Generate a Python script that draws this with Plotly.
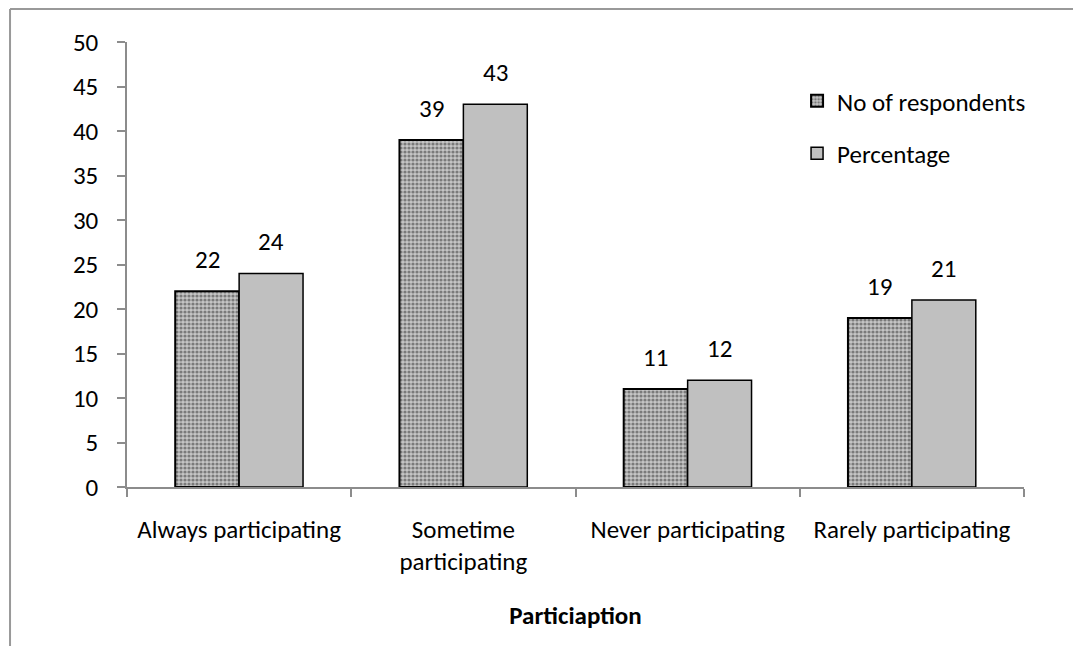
import plotly.graph_objects as go

categories = ["Always participating", "Sometime<br>participating",
              "Never participating", "Rarely participating"]
respondents = [22, 39, 11, 19]
percentage = [24, 43, 12, 21]
y_ticks = [0, 5, 10, 15, 20, 25, 30, 35, 40, 45, 50]

FONT = "Carlito, Calibri, Lato, sans-serif"
FS = 25
BAR_SHIFT = 32  # half of one bar's width in px, used to centre value labels

fig = go.Figure()

fig.add_trace(go.Bar(
    name="No of respondents",
    x=categories, y=respondents,
    marker=dict(
        color="#b4b4b4",
        line=dict(color="black", width=2),
        pattern=dict(shape=".", fgcolor="#7a7a7a", bgcolor="#c6c6c6",
                     size=4, solidity=0.5, fillmode="replace"),
    ),
    legendgroup="a",
))
fig.add_trace(go.Bar(
    name="Percentage",
    x=categories, y=percentage,
    marker=dict(color="#c0c0c0", line=dict(color="black", width=1.5)),
    legendgroup="b",
))

# value labels above each bar
for cat, v in zip(categories, respondents):
    fig.add_annotation(x=cat, y=v, xref="x", yref="y", text=str(v),
                       showarrow=False, xshift=-BAR_SHIFT, yshift=14,
                       yanchor="bottom",
                       font=dict(family=FONT, size=FS, color="black"))
for cat, v in zip(categories, percentage):
    fig.add_annotation(x=cat, y=v, xref="x", yref="y", text=str(v),
                       showarrow=False, xshift=BAR_SHIFT, yshift=14,
                       yanchor="bottom",
                       font=dict(family=FONT, size=FS, color="black"))

# outer chart frame (top and left edges)
fig.add_shape(type="line", xref="paper", yref="paper",
              x0=-0.1304, x1=1.06, y0=1.074, y1=1.074,
              line=dict(color="#999999", width=2))
fig.add_shape(type="line", xref="paper", yref="paper",
              x0=-0.1304, x1=-0.1304, y0=1.074, y1=-0.36,
              line=dict(color="#999999", width=2))

fig.update_layout(
    width=1073, height=646,
    margin=dict(l=127, r=49, t=42, b=159),
    paper_bgcolor="white", plot_bgcolor="white",
    font=dict(family=FONT, size=FS, color="black"),
    barmode="group", bargap=0.43, bargroupgap=0,
    showlegend=True,
    legend=dict(x=0.747, y=0.919, xanchor="left", yanchor="top",
                bgcolor="rgba(0,0,0,0)", tracegroupgap=17,
                traceorder="grouped",
                font=dict(family=FONT, size=FS, color="black")),
    xaxis=dict(
        showline=True, linecolor="#8c8c8c", linewidth=1.5,
        ticks="outside", tickson="boundaries", ticklen=8,
        tickcolor="#8c8c8c", tickwidth=1.5,
        ticklabelstandoff=19,
        tickfont=dict(family=FONT, size=FS, color="black"),
        title=dict(text="<b>Particiaption</b>", standoff=30,
                   font=dict(family=FONT, size=FS, color="black")),
    ),
    yaxis=dict(
        range=[0, 50], tickvals=y_ticks,
        showline=True, linecolor="#8c8c8c", linewidth=1.5,
        ticks="outside", ticklen=8, tickcolor="#8c8c8c", tickwidth=1.5,
        ticklabelstandoff=14,
        showgrid=False, zeroline=False,
        tickfont=dict(family=FONT, size=FS, color="black"),
    ),
)

fig.write_html("out.html")
